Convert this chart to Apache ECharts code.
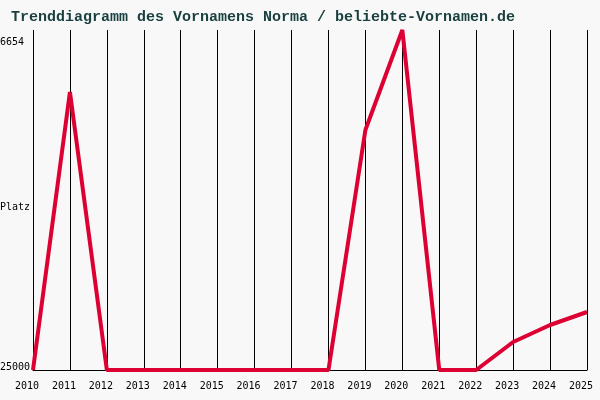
<!DOCTYPE html>
<html><head><meta charset="utf-8">
<script src="https://cdn.jsdelivr.net/npm/echarts@6/dist/echarts.min.js"></script>
<style>html,body{margin:0;background:#f8f8f8}#c{width:600px;height:400px}</style>
</head><body><div id="c"></div>
<script>
const years=['2010','2011','2012','2013','2014','2015','2016','2017','2018','2019','2020','2021','2022','2023','2024','2025'];
const ranks=[25000,9999,25000,25000,25000,25000,25000,25000,25000,12050,6654,25000,25000,23489,22572,21870];
const yTicks=[6654,25000];
const yName='Platz';
const chart=echarts.init(document.getElementById('c'));
const mono='DejaVu Sans Mono';
chart.setOption({
  backgroundColor:'#f8f8f8',
  title:{text:'Trenddiagramm des Vornamens Norma / beliebte-Vornamen.de',left:6,top:5,textStyle:{fontFamily:'Liberation Mono',fontSize:15,fontWeight:'bold',color:'#1a3f3f'}},
  grid:{left:33,right:13,top:30,bottom:30},
  xAxis:{type:'category',data:years,boundaryGap:false,
    axisLine:{lineStyle:{color:'#000'}},axisTick:{show:false},
    splitLine:{show:true,lineStyle:{color:'#000',width:1}},
    axisLabel:{fontFamily:mono,fontSize:10,color:'#000',margin:11,padding:[0,12,0,0]}},
  yAxis:{type:'value',inverse:true,min:yTicks[0],max:yTicks[1],
    axisLine:{show:false},axisTick:{show:false},splitLine:{show:false},axisLabel:{show:false}},
  graphic:[
    {type:'text',left:0,top:37,style:{text:String(yTicks[0]),font:'10px '+mono,fill:'#000'}},
    {type:'text',left:0,top:362,style:{text:String(yTicks[1]),font:'10px '+mono,fill:'#000'}},
    {type:'text',left:0,top:202,style:{text:yName,font:'10px '+mono,fill:'#000'}}
  ],
  series:[{type:'line',data:ranks,symbol:'none',lineStyle:{color:'#dd0033',width:4}}]
});
</script></body></html>
